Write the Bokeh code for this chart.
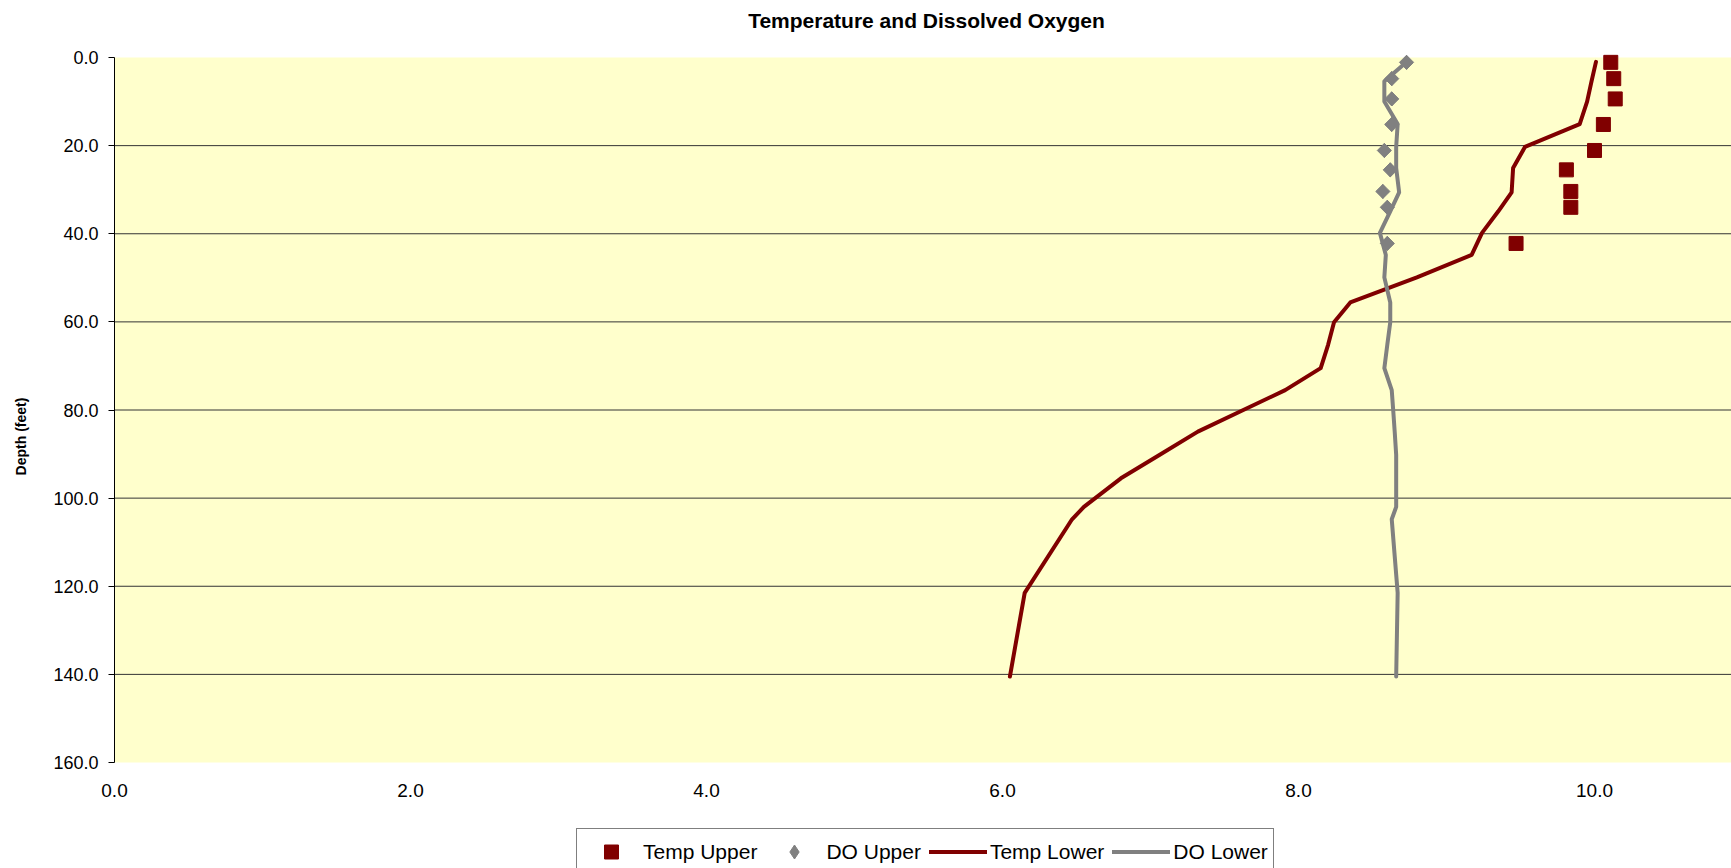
from bokeh.plotting import figure
from bokeh.models import (Range1d, FixedTicker, PrintfTickFormatter, Legend, LegendItem,
                          Label, BoxAnnotation)
from bokeh.embed import file_html
from bokeh.resources import INLINE
import math

# ---- data ----
upper_depth = [1.1, 4.8, 9.4, 15.2, 21.1, 25.5, 30.4, 34.0, 42.2]
temp_upper = [10.11, 10.13, 10.14, 10.06, 10.00, 9.81, 9.84, 9.84, 9.47]
do_upper = [8.73, 8.63, 8.63, 8.63, 8.58, 8.62, 8.57, 8.60, 8.60]

lower_depth = [1.0, 5.4, 10.0, 15.1, 20.3, 25.1, 30.6, 34.9, 39.8, 44.8, 49.9,
               55.6, 60.1, 65.2, 70.5, 75.5, 80.1, 84.9, 90.2, 95.5, 102.0,
               104.8, 121.5, 140.5]
temp_lower = [10.01, 9.98, 9.95, 9.90, 9.53, 9.45, 9.44, 9.35, 9.24, 9.17, 8.80,
              8.35, 8.24, 8.20, 8.15, 7.91, 7.62, 7.32, 7.06, 6.80, 6.55,
              6.47, 6.15, 6.05]
do_lower = [8.73, 8.58, 8.58, 8.67, 8.66, 8.66, 8.68, 8.62, 8.55, 8.59, 8.58,
            8.62, 8.62, 8.60, 8.58, 8.63, 8.64, 8.65, 8.66, 8.66, 8.66,
            8.63, 8.67, 8.66]

x_ticks = [0, 2, 4, 6, 8, 10]
y_ticks = [0, 20, 40, 60, 80, 100, 120, 140, 160]
grid_ticks = [20, 40, 60, 80, 100, 120, 140]
depth_min, depth_max = 0, 160

title_text = "Temperature and Dissolved Oxygen"
y_label_text = "Depth (feet)"

FONT = "Liberation Sans"
DARK_RED = "#800000"
GRAY = "#808080"
PLOT_BG = "#FFFFCC"
GRID = "#333333"

# ---- layout (pixels) ----
W, H = 1731, 868
area_left = 114                   # pixel column of x = 0
area_top, area_bottom = 57, 762   # pixel rows of depth 0 and depth 160
px_per_unit = 148.0
px_per_ft = (area_bottom - area_top) / (depth_max - depth_min)
x_lo = -area_left / px_per_unit
x_hi = (W - area_left) / px_per_unit
y_top = depth_min - area_top / px_per_ft
y_bottom = depth_max + (H - area_bottom) / px_per_ft

p = figure(width=W, height=H, output_backend="svg", toolbar_location=None,
           x_range=Range1d(x_lo, x_hi), y_range=Range1d(y_bottom, y_top),
           min_border_left=0, min_border_right=0,
           min_border_top=0, min_border_bottom=0,
           background_fill_color="white", border_fill_color="white",
           outline_line_color=None)
p.title.text = ""
p.xgrid.visible = False
p.ygrid.visible = False

# yellow plot area
p.add_layout(BoxAnnotation(left=0, right=x_hi, top=depth_min, bottom=depth_max,
                           fill_color=PLOT_BG, fill_alpha=1, line_color=None,
                           level="image"))

# y axis, drawn at x = 0 inside the frame
p.yaxis.fixed_location = 0
p.yaxis.bounds = (depth_min, depth_max)
p.yaxis.ticker = FixedTicker(ticks=y_ticks)
p.yaxis.formatter = PrintfTickFormatter(format="%.1f")
p.yaxis.major_label_text_font = FONT
p.yaxis.major_label_text_font_size = "18px"
p.yaxis.major_label_text_color = "black"
p.yaxis.major_tick_out = 6
p.yaxis.major_tick_in = 0
p.yaxis.minor_tick_out = 0
p.yaxis.minor_tick_in = 0
p.yaxis.major_label_standoff = 10
p.yaxis.axis_line_color = "black"
p.yaxis.major_tick_line_color = "black"

# x axis, drawn at depth 160 inside the frame
p.xaxis.fixed_location = depth_max
p.xaxis.ticker = FixedTicker(ticks=x_ticks)
p.xaxis.formatter = PrintfTickFormatter(format="%.1f")
p.xaxis.major_label_text_font = FONT
p.xaxis.major_label_text_font_size = "19px"
p.xaxis.major_label_text_color = "black"
p.xaxis.axis_line_color = None
p.xaxis.major_tick_line_color = None
p.xaxis.minor_tick_line_color = None
p.xaxis.major_tick_out = 0
p.xaxis.major_tick_in = 0
p.xaxis.major_label_standoff = 21

# horizontal gridlines across the plot area only
p.segment(x0=0, y0=grid_ticks, x1=x_hi, y1=grid_ticks, line_color=GRID, line_width=1)

r_tl = p.line(temp_lower, lower_depth, line_color=DARK_RED, line_width=4,
              line_cap="round", line_join="round")
r_dl = p.line(do_lower, lower_depth, line_color=GRAY, line_width=4,
              line_cap="round", line_join="round")
# diamond (used as legend key) hidden under the rotated squares
r_du_key = p.scatter(do_upper, upper_depth, marker="diamond", size=14,
                     fill_color=GRAY, line_color=GRAY)
r_du = p.scatter(do_upper, upper_depth, marker="square", size=10, angle=math.pi / 4,
                 fill_color=GRAY, line_color=GRAY)
r_tu = p.scatter(temp_upper, upper_depth, marker="square", size=14,
                 fill_color=DARK_RED, line_color=DARK_RED)

# title and y-axis label inside the full-canvas frame
p.add_layout(Label(x=926, y=H - 20, x_units="screen", y_units="screen",
                   text=title_text, text_font=FONT, text_font_size="21px",
                   text_font_style="bold", text_color="black",
                   text_align="center", text_baseline="middle"))
p.add_layout(Label(x=20, y=H - 436, x_units="screen", y_units="screen",
                   text=y_label_text, text_font=FONT, text_font_size="14px",
                   text_font_style="bold", text_color="black", angle=math.pi / 2,
                   text_align="center", text_baseline="middle"))

legend = Legend(items=[
    LegendItem(label="Temp Upper", renderers=[r_tu]),
    LegendItem(label="DO Upper", renderers=[r_du_key]),
    LegendItem(label="Temp Lower", renderers=[r_tl]),
    LegendItem(label="DO Lower", renderers=[r_dl]),
], orientation="horizontal", location=(576, -7),
    label_text_font=FONT, label_text_font_size="21px", label_text_color="black",
    border_line_color="black", border_line_width=1,
    background_fill_color="white", background_fill_alpha=1,
    padding=5, spacing=8, glyph_width=58, glyph_height=35, label_height=24,
    label_standoff=3, margin=0)
p.add_layout(legend, "center")

open("out.html", "w").write(file_html(p, INLINE))
